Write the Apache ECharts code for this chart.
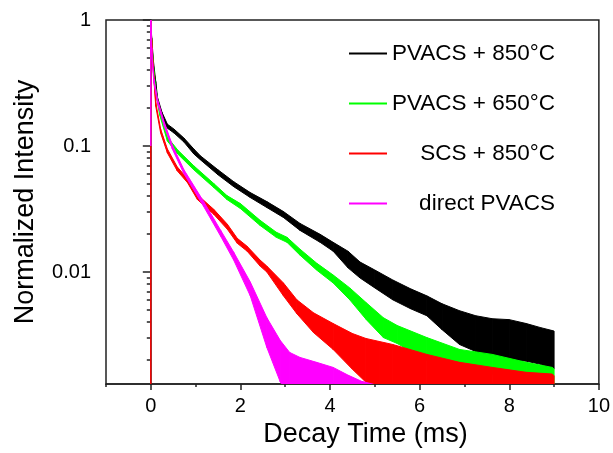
<!DOCTYPE html>
<html>
<head>
<meta charset="utf-8">
<script src="https://cdn.jsdelivr.net/npm/echarts@6/dist/echarts.min.js"></script>
<style>
  html, body { margin: 0; padding: 0; background: #fff; }
  #chart { width: 613px; height: 453px; }
</style>
</head>
<body>
<div id="chart"></div>
<script>
// legend names, in drawing order
const seriesNames = ['PVACS + 850°C', 'PVACS + 650°C', 'SCS + 850°C', 'direct PVACS'];
const seriesColors = ['#000000', '#00ff00', '#ff0000', '#ff00ff'];

const xTickLabels = [0, 2, 4, 6, 8, 10];
const xMinorTicks = [-1, 1, 3, 5, 7, 9];
const yTickLabels = [0.01, 0.1, 1];
const yMinorTicks = [0.002, 0.003, 0.004, 0.005, 0.006, 0.007, 0.008, 0.009,
  0.02, 0.03, 0.04, 0.05, 0.06, 0.07, 0.08, 0.09,
  0.2, 0.3, 0.4, 0.5, 0.6, 0.7, 0.8, 0.9];

// decay curves: time (ms), top and bottom of the noisy trace
const black850Time = [0, 0.02, 0.06, 0.11, 0.15, 0.25, 0.37, 0.52, 0.74, 0.96, 1.11, 1.5, 1.85, 2.22, 2.59, 2.96, 3.33, 3.78, 4.07, 4.4, 4.67, 5.0, 5.4, 5.8, 6.16, 6.5, 6.89, 7.25, 7.62, 8.0, 8.38, 8.7, 8.96, 9.0];
const black850Upper = [1, 0.722, 0.467, 0.325, 0.243, 0.185, 0.149, 0.136, 0.1156, 0.0947, 0.0834, 0.0647, 0.0521, 0.0427, 0.0362, 0.0302, 0.0243, 0.0199, 0.0172, 0.01463, 0.012, 0.01037, 0.00865, 0.00735, 0.00647, 0.0056, 0.00493, 0.0045, 0.00426, 0.00419, 0.0039, 0.00362, 0.00343, 0.0034];
const black850Lower = [1, 0.671, 0.434, 0.302, 0.226, 0.172, 0.1386, 0.1266, 0.1075, 0.0865, 0.0776, 0.0591, 0.0476, 0.039, 0.0325, 0.0271, 0.0214, 0.0172, 0.01463, 0.0108, 0.00897, 0.00748, 0.00602, 0.00511, 0.0045, 0.00349, 0.00266, 0.00234, 0.0021, 0.00203, 0.00196, 0.00185, 0.00169, 0.0017];

const green650Time = [0, 0.02, 0.06, 0.11, 0.2, 0.37, 0.6, 0.96, 1.41, 1.7, 2.0, 2.44, 2.8, 3.04, 3.33, 3.7, 4.07, 4.44, 4.81, 5.19, 5.5, 6.16, 6.89, 7.62, 8.38, 8.96, 9.0];
const green650Upper = [1, 0.696, 0.434, 0.281, 0.1886, 0.1177, 0.093, 0.0696, 0.0502, 0.0404, 0.0349, 0.0257, 0.0207, 0.01886, 0.01518, 0.01177, 0.00947, 0.00748, 0.0057, 0.00434, 0.00376, 0.00302, 0.00243, 0.00222, 0.00192, 0.00175, 0.0017];
const green650Lower = [1, 0.647, 0.404, 0.2615, 0.1754, 0.1095, 0.0865, 0.0647, 0.0467, 0.0376, 0.0319, 0.0234, 0.01886, 0.0172, 0.01361, 0.01037, 0.00819, 0.00602, 0.00419, 0.00302, 0.00271, 0.00199, 0.00175, 0.00155, 0.001386, 0.00122, 0.0012];

const redScsTime = [0, 0, 0.02, 0.06, 0.11, 0.22, 0.37, 0.59, 0.82, 1.04, 1.41, 1.71, 1.93, 2.15, 2.44, 2.59, 2.96, 3.26, 3.63, 4.07, 4.5, 4.8, 5.1, 5.4, 6.16, 6.89, 7.62, 8.38, 8.96, 9.0];
const redScsUpper = [1, 1, 0.696, 0.404, 0.222, 0.136, 0.0947, 0.0683, 0.055, 0.0411, 0.0313, 0.0239, 0.0185, 0.016, 0.01243, 0.01114, 0.00819, 0.00602, 0.00475, 0.0039, 0.00325, 0.00297, 0.00281, 0.00266, 0.00222, 0.00192, 0.00175, 0.0016, 0.00155, 0.0015];
const redScsLower = [0.0005, 1, 0.647, 0.3757, 0.2065, 0.1266, 0.0881, 0.0635, 0.0511, 0.0376, 0.0286, 0.0218, 0.0169, 0.01463, 0.01114, 0.01, 0.00647, 0.00467, 0.00331, 0.00243, 0.00169, 0.001337, 0.001, 0.001, 0.001, 0.001, 0.001, 0.001, 0.001, 0.001];

const magentaTime = [0, 0, 0.02, 0.04, 0.07, 0.15, 0.3, 0.48, 0.74, 1.18, 1.56, 1.85, 2.22, 2.59, 2.89, 3.1, 3.33, 3.7, 4.07, 4.4, 4.7, 5.1];
const magentaUpper = [1, 1, 0.602, 0.46, 0.34, 0.235, 0.1545, 0.1018, 0.0647, 0.0362, 0.0214, 0.01437, 0.00834, 0.00434, 0.00286, 0.0023, 0.0021, 0.00192, 0.00175, 0.00152, 0.00136, 0.00125];
const magentaLower = [0.1, 1, 0.56, 0.43, 0.315, 0.218, 0.1437, 0.0947, 0.0602, 0.0331, 0.0192, 0.01243, 0.00647, 0.00252, 0.00134, 0.001, 0.001, 0.001, 0.001, 0.001, 0.001, 0.001];

const curves = [
  [black850Time, black850Upper, black850Lower],
  [green650Time, green650Upper, green650Lower],
  [redScsTime, redScsUpper, redScsLower],
  [magentaTime, magentaUpper, magentaLower]
];

const FONT = "'Liberation Sans', Arial, sans-serif";
const AXIS_COLOR = '#222';

// each data item draws the band piece up to the next item
function bandRenderer(times, upper, lower, color) {
  return function (params, api) {
    const i = params.dataIndex;
    if (i >= times.length - 1) return null;
    const a = api.coord([times[i], upper[i]]);
    const b = api.coord([times[i + 1], upper[i + 1]]);
    const c = api.coord([times[i + 1], lower[i + 1]]);
    const d = api.coord([times[i], lower[i]]);
    return {
      type: 'polygon',
      shape: { points: [a, b, c, d] },
      style: { fill: color, stroke: color, lineWidth: 1, lineJoin: 'round' }
    };
  };
}

const series = curves.map(function (c, k) {
  return {
    name: seriesNames[k],
    type: 'custom',
    clip: true,
    xAxisIndex: 0,
    yAxisIndex: 0,
    itemStyle: { color: seriesColors[k] },
    encode: { x: 0, y: [1, 2] },
    renderItem: bandRenderer(c[0], c[1], c[2], seriesColors[k]),
    data: c[0].map(function (t, i) { return [t, c[1][i], c[2][i]]; })
  };
});

const chart = echarts.init(document.getElementById('chart'));
chart.setOption({
  animation: false,
  backgroundColor: '#fff',
  grid: {
    left: 106, right: 12, top: 20, bottom: 66,
    show: true, borderColor: AXIS_COLOR, borderWidth: 1.5, backgroundColor: 'transparent'
  },
  legend: {
    orient: 'vertical',
    left: 349,
    top: 42,
    padding: 0,
    itemGap: 27,
    itemWidth: 38,
    itemHeight: 2,
    icon: 'rect',
    selectedMode: false,
    data: seriesNames,
    formatter: function (name) { return '{r|' + name + '}'; },
    textStyle: {
      rich: {
        r: { width: 163, align: 'right', fontSize: 22.5, lineHeight: 22, fontFamily: FONT, color: '#000' }
      }
    }
  },
  xAxis: [{
    type: 'value',
    min: -1,
    max: 10,
    name: 'Decay Time (ms)',
    nameLocation: 'middle',
    nameGap: 33,
    nameTextStyle: { fontSize: 27, fontFamily: FONT, color: '#000', padding: [0, 0, 0, 26] },
    axisLine: { lineStyle: { color: AXIS_COLOR, width: 1.5 } },
    axisTick: { customValues: xTickLabels, length: 6, lineStyle: { color: AXIS_COLOR, width: 1.5 } },
    axisLabel: { customValues: xTickLabels, fontSize: 20, fontFamily: FONT, color: '#000', margin: 12 },
    splitLine: { show: false }
  }, {
    type: 'value',
    min: -1,
    max: 10,
    position: 'bottom',
    axisLine: { show: false },
    axisTick: { customValues: xMinorTicks, length: 3, lineStyle: { color: AXIS_COLOR, width: 1.5 } },
    axisLabel: { show: false },
    splitLine: { show: false }
  }],
  yAxis: [{
    type: 'log',
    min: 0.00129,
    max: 1,
    name: 'Normalized Intensity',
    nameLocation: 'middle',
    nameGap: 67,
    nameTextStyle: { fontSize: 27, fontFamily: FONT, color: '#000' },
    axisLine: { lineStyle: { color: AXIS_COLOR, width: 1.5 } },
    axisTick: { customValues: yTickLabels, length: 8, lineStyle: { color: AXIS_COLOR, width: 1.5 } },
    axisLabel: {
      customValues: yTickLabels, fontSize: 20, fontFamily: FONT, color: '#000', margin: 15,
      formatter: function (v) { return String(v); }
    },
    splitLine: { show: false }
  }, {
    type: 'log',
    min: 0.00129,
    max: 1,
    position: 'left',
    axisLine: { show: false },
    axisTick: { customValues: yMinorTicks, length: 4, lineStyle: { color: AXIS_COLOR, width: 1.5 } },
    axisLabel: { show: false },
    splitLine: { show: false }
  }],
  series: series
});
</script>
</body>
</html>
